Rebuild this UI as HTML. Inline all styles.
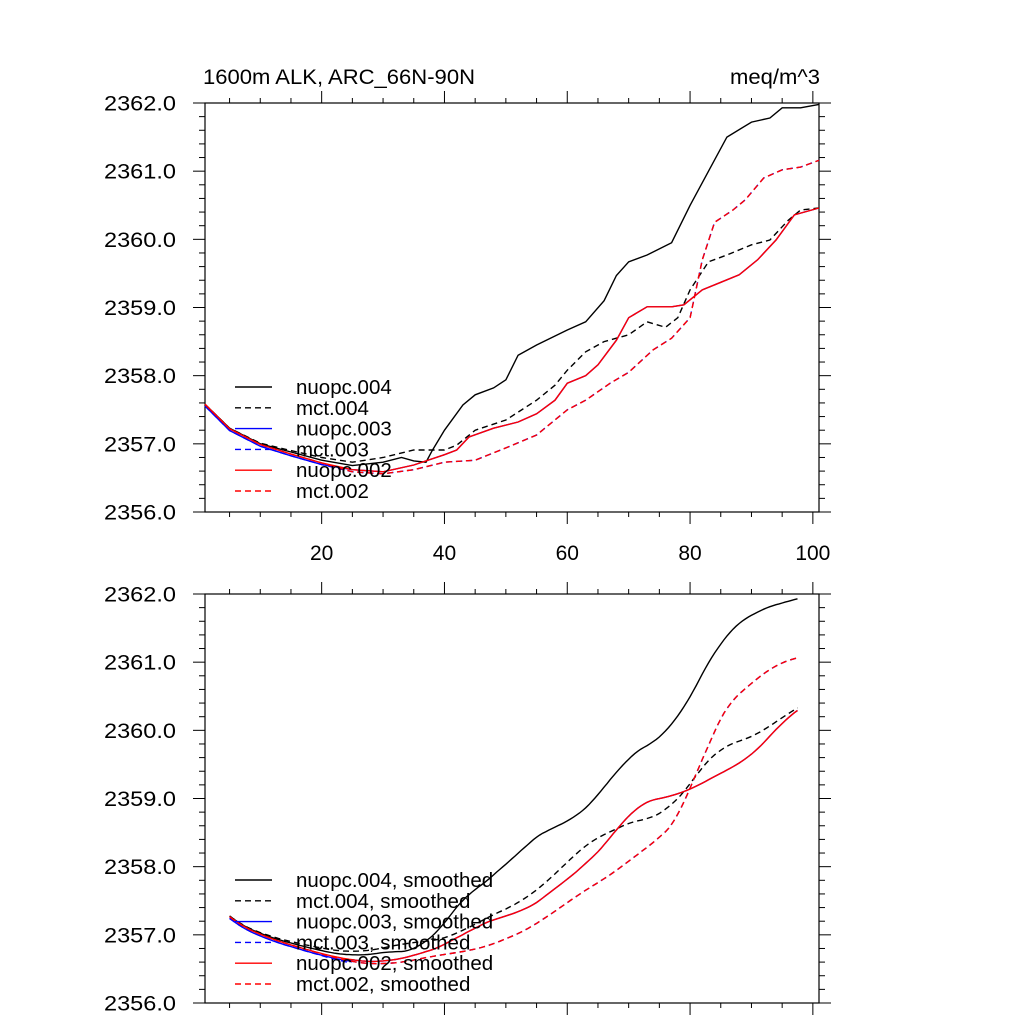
<!DOCTYPE html>
<html><head><meta charset="utf-8"><style>
html,body{margin:0;padding:0;background:#fff;}
svg{display:block;font-family:"Liberation Sans",sans-serif;}
</style></head><body>
<svg id="chart" width="1024" height="1024" viewBox="0 0 1024 1024" xmlns="http://www.w3.org/2000/svg">
<text x="203" y="84" font-size="21" textLength="272" lengthAdjust="spacingAndGlyphs">1600m ALK, ARC_66N-90N</text>
<text x="820" y="84" font-size="21" text-anchor="end" textLength="90" lengthAdjust="spacingAndGlyphs">meq/m^3</text>
</svg>
<script>
// ---- data (x = model year index, y = ALK meq/m^3) ----
const xTicks = [20, 40, 60, 80, 100];
const yTicks = [2356, 2357, 2358, 2359, 2360, 2361, 2362];
const nuopc004X = [1,5,10,15,20,25,30,33,35,37,38,40,43,45,48,50,52,55,60,63,66,68,70,73,77,80,83,86,90,93,95,98,101];
const nuopc004Y = [2357.58,2357.23,2357.0,2356.88,2356.76,2356.68,2356.73,2356.8,2356.75,2356.73,2356.9,2357.2,2357.57,2357.72,2357.82,2357.94,2358.3,2358.45,2358.67,2358.79,2359.1,2359.47,2359.67,2359.77,2359.95,2360.5,2361.0,2361.5,2361.72,2361.78,2361.93,2361.93,2361.98];
const mct004X = [1,5,10,15,20,25,30,35,40,42,45,50,55,58,60,63,66,70,73,76,78,80,83,86,90,93,96,98,101];
const mct004Y = [2357.58,2357.23,2357.01,2356.9,2356.8,2356.73,2356.8,2356.91,2356.91,2356.98,2357.2,2357.35,2357.64,2357.86,2358.08,2358.35,2358.5,2358.6,2358.79,2358.71,2358.85,2359.26,2359.67,2359.77,2359.92,2359.99,2360.28,2360.43,2360.46];
const nuopc002X = [1,5,10,15,20,25,30,35,40,42,44,48,52,55,58,60,63,65,68,70,73,77,79,82,85,88,91,94,97,101];
const nuopc002Y = [2357.58,2357.22,2356.99,2356.85,2356.72,2356.62,2356.59,2356.69,2356.84,2356.91,2357.1,2357.23,2357.32,2357.44,2357.64,2357.89,2358.0,2358.16,2358.52,2358.85,2359.01,2359.01,2359.04,2359.26,2359.37,2359.48,2359.7,2359.99,2360.36,2360.46];
const mct002X = [1,5,10,15,20,25,30,35,40,45,50,55,60,63,67,70,74,77,80,82,84,87,89,92,95,98,101];
const mct002Y = [2357.58,2357.22,2356.99,2356.85,2356.72,2356.59,2356.56,2356.62,2356.73,2356.76,2356.94,2357.13,2357.5,2357.64,2357.89,2358.05,2358.38,2358.55,2358.85,2359.7,2360.25,2360.43,2360.58,2360.9,2361.02,2361.06,2361.16];
const legendTop = ["nuopc.004","mct.004","nuopc.003","mct.003","nuopc.002","mct.002"];
const legendBottom = ["nuopc.004, smoothed","mct.004, smoothed","nuopc.003, smoothed","mct.003, smoothed","nuopc.002, smoothed","mct.002, smoothed"];

const NS = "http://www.w3.org/2000/svg";
const svg = document.getElementById('chart');
const L = 205, R = 819, xMin = 1, xMax = 101;
const panels = [{top:103, bot:512, labels:true, smooth:false, legendY:387, legend:legendTop, name:'top'},
                {top:594, bot:1003, labels:false, smooth:true, legendY:880, legend:legendBottom, name:'bottom'}];
function sx(x){ return L + (x - xMin) * (R - L) / (xMax - xMin); }
function mk(tag, attrs){ const e = document.createElementNS(NS, tag); for (const k in attrs) e.setAttribute(k, attrs[k]); svg.appendChild(e); return e; }
function interp(xs, ys, x){ for (let i=0;i<xs.length-1;i++){ if (x<=xs[i+1]){ const t=(x-xs[i])/(xs[i+1]-xs[i]); return ys[i]+t*(ys[i+1]-ys[i]); } } return ys[ys.length-1]; }
function smoothSeries(xs, ys){ const ox=[], oy=[]; for (let x=5;x<=97.5;x+=0.5){ let s=0,n=0; for (let d=-4;d<=4;d+=0.5){ s+=interp(xs,ys,Math.min(101,Math.max(1,x+d))); n++; } ox.push(x); oy.push(s/n);} return [ox,oy]; }

const series = [
  {name:'nuopc-003', xs:nuopc002X, ys:nuopc002Y, color:'#0000ff', dash:null, off:0.025},
  {name:'mct-003', xs:mct002X, ys:mct002Y, color:'#0000ff', dash:'6,4', off:0.025},
  {name:'nuopc-004', xs:nuopc004X, ys:nuopc004Y, color:'#000', dash:null, off:0},
  {name:'mct-004', xs:mct004X, ys:mct004Y, color:'#000', dash:'6,4', off:0},
  {name:'nuopc-002', xs:nuopc002X, ys:nuopc002Y, color:'#ff0000', dash:null, off:0},
  {name:'mct-002', xs:mct002X, ys:mct002Y, color:'#ff0000', dash:'6,4', off:0}
];
const legendStyles = [['#000',null],['#000','6,4'],['#0000ff',null],['#0000ff','6,4'],['#ff0000',null],['#ff0000','6,4']];

panels.forEach(p => {
  const sy = v => p.bot - (v - 2356) * (p.bot - p.top) / 6;
  const fr = mk('rect',{x:L,y:p.top,width:R-L,height:p.bot-p.top,fill:'none',stroke:'#000','stroke-width':1.2});
  
  
  for (let v=2356; v<=2362.001; v+=0.2){
    const major = Math.abs(v-Math.round(v))<0.01, len = major?12:6, y=sy(v);
    const t1 = mk('line',{x1:L-len,y1:y,x2:L,y2:y,stroke:'#000','stroke-width':1});
     
    const t2 = mk('line',{x1:R,y1:y,x2:R+len,y2:y,stroke:'#000','stroke-width':1});
     
  }
  yTicks.forEach(v => {
    const t = mk('text',{x:176,y:sy(v)+7.5,'font-size':21,'text-anchor':'end',textLength:72,lengthAdjust:'spacingAndGlyphs'});
    t.textContent = v.toFixed(1);
     
  });
  for (let x=5; x<=100; x+=5){
    const major = x%20===0, len = major?12:5, X=sx(x);
    const b = mk('line',{x1:X,y1:p.bot,x2:X,y2:p.bot+len,stroke:'#000','stroke-width':1});
     
    const t = mk('line',{x1:X,y1:p.top-len,x2:X,y2:p.top,stroke:'#000','stroke-width':1});
     
  }
  if (p.labels) xTicks.forEach(x => {
    const t = mk('text',{x:sx(x),y:p.bot+48,'font-size':21,'text-anchor':'middle'});
    t.textContent = x;
     
  });
  series.forEach(s => {
    let xs=s.xs, ys=s.ys;
    if (p.smooth){ const r = smoothSeries(xs, ys); xs=r[0]; ys=r[1]; }
    const d = xs.map((x,i)=>(i?'L':'M')+sx(x).toFixed(1)+','+(sy(ys[i])+(x<25?s.off*68:0)).toFixed(1)).join(' ');
    const path = mk('path',{d:d,fill:'none',stroke:s.color,'stroke-width':1.4});
    if (s.dash) path.setAttribute('stroke-dasharray', s.dash);
    
    
  });
  p.legend.forEach((lab,i) => {
    const y = p.legendY + i*20.8;
    const ln = mk('line',{x1:235,y1:y,x2:272,y2:y,stroke:legendStyles[i][0],'stroke-width':1.4});
    if (legendStyles[i][1]) ln.setAttribute('stroke-dasharray', legendStyles[i][1]);
     
    const t = mk('text',{x:296,y:y+7,'font-size':20.5});
    t.textContent = lab;
     
  });
});
</script>
</body></html>
